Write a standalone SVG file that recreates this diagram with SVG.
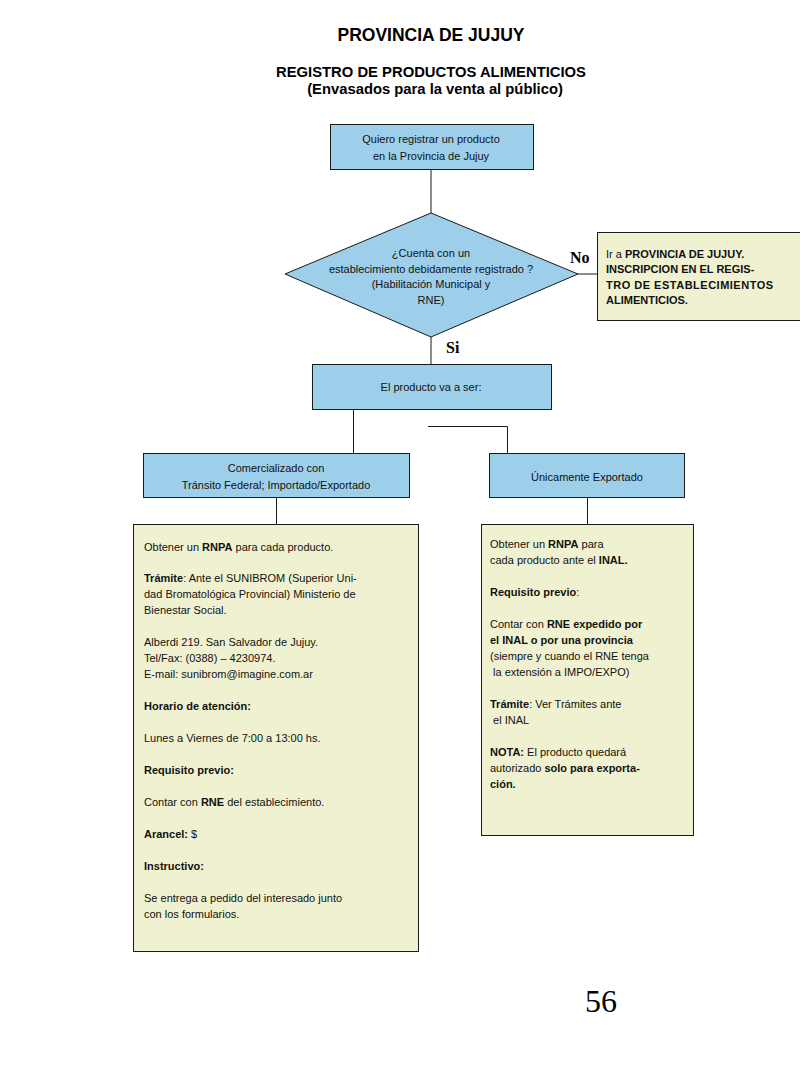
<svg xmlns="http://www.w3.org/2000/svg" width="800" height="1066" viewBox="0 0 800 1066">
<style>
.bg{fill:#ffffff}
.blue{fill:#9ecfea;stroke:#1a1a1a;stroke-width:1}
.note{fill:#f0f1d0;stroke:#1a1a1a;stroke-width:1}
.t{font-family:"Liberation Sans",Arial,sans-serif;font-size:11px;fill:#111}
.c{text-anchor:middle}
.b{font-weight:bold}
.h{font-family:"Liberation Sans",Arial,sans-serif;font-weight:bold;fill:#000;text-anchor:middle}
.lbl{font-family:"Liberation Serif","Times New Roman",serif;font-weight:bold;font-size:16px;fill:#000}
.conn{stroke:#1a1a1a;stroke-width:1;fill:none}
</style>
<rect class="bg" x="0" y="0" width="800" height="1066"/>
<g id="titles">
<text class="h" x="431" y="41" font-size="17.5">PROVINCIA DE JUJUY</text>
<text class="h" x="431" y="77" font-size="14.8">REGISTRO DE PRODUCTOS ALIMENTICIOS</text>
<text class="h" x="435" y="94" font-size="14.8">(Envasados para la venta al público)</text>
</g>
<g id="connectors">
<line class="conn" x1="431" y1="169" x2="431" y2="213"/>
<line class="conn" x1="578" y1="274" x2="597" y2="274"/>
<line class="conn" x1="431" y1="337" x2="431" y2="364"/>
<line class="conn" x1="353.5" y1="409" x2="353.5" y2="453"/>
<polyline class="conn" points="428,426.5 507.5,426.5 507.5,453"/>
<line class="conn" x1="276.5" y1="497" x2="276.5" y2="524"/>
<line class="conn" x1="587.5" y1="497" x2="587.5" y2="524"/>
<text class="lbl" x="570" y="263">No</text>
<text class="lbl" x="446" y="353">Si</text>
</g>
<g id="n-start">
<rect class="blue" x="330.5" y="124.5" width="203" height="45"/>
<text class="t c" x="431" y="143">Quiero registrar un producto</text>
<text class="t c" x="431" y="160">en la Provincia de Jujuy</text>
</g>
<g id="n-decision">
<polygon class="blue" points="431,213 578,274 431,337 285,274"/>
<text class="t c" x="431" y="257">¿Cuenta con un</text>
<text class="t c" x="431" y="273">establecimiento debidamente registrado ?</text>
<text class="t c" x="431" y="288">(Habilitación Municipal y</text>
<text class="t c" x="431" y="304">RNE)</text>
</g>
<g id="n-no">
<rect class="note" x="597.5" y="232.5" width="203" height="88"/>
<text class="t" x="606" y="258" font-size="10.5">Ir a <tspan class="b">PROVINCIA DE JUJUY.</tspan></text>
<text class="t b" x="606" y="273" font-size="10.5">INSCRIPCION EN EL REGIS-</text>
<text class="t b" x="606" y="289" font-size="10.5" letter-spacing="0.5">TRO DE ESTABLECIMIENTOS</text>
<text class="t b" x="606" y="304" font-size="10.5">ALIMENTICIOS.</text>
</g>
<g id="n-producto">
<rect class="blue" x="312.5" y="364.5" width="239" height="45"/>
<text class="t c" x="431" y="391">El producto va a ser:</text>
</g>
<g id="n-comercializado">
<rect class="blue" x="143.5" y="453.5" width="266" height="44"/>
<text class="t c" x="276" y="472">Comercializado con</text>
<text class="t c" x="276" y="489">Tránsito Federal; Importado/Exportado</text>
</g>
<g id="n-exportado">
<rect class="blue" x="489.5" y="453.5" width="195" height="44"/>
<text class="t c" x="587" y="481">Únicamente Exportado</text>
</g>
<g id="n-detalle-comercializado">
<rect class="note" x="133.5" y="524.5" width="285" height="427"/>
<text class="t" x="144" y="551">Obtener un <tspan class="b">RNPA</tspan> para cada producto.</text>
<text class="t" x="144" y="582"><tspan class="b">Trámite</tspan>:  Ante el SUNIBROM (Superior Uni-</text>
<text class="t" x="144" y="598">dad Bromatológica Provincial) Ministerio de</text>
<text class="t" x="144" y="614">Bienestar Social.</text>
<text class="t" x="144" y="646">Alberdi 219. San Salvador de Jujuy.</text>
<text class="t" x="144" y="662">Tel/Fax: (0388) – 4230974.</text>
<text class="t" x="144" y="678">E-mail: sunibrom@imagine.com.ar</text>
<text class="t b" x="144" y="710">Horario de atención:</text>
<text class="t" x="144" y="742">Lunes a Viernes de 7:00 a 13:00 hs.</text>
<text class="t b" x="144" y="774">Requisito previo:</text>
<text class="t" x="144" y="806">Contar con <tspan class="b">RNE</tspan> del establecimiento.</text>
<text class="t" x="144" y="838"><tspan class="b">Arancel:</tspan> $</text>
<text class="t b" x="144" y="870">Instructivo:</text>
<text class="t" x="144" y="902">Se entrega a pedido del interesado junto</text>
<text class="t" x="144" y="918">con los formularios.</text>
</g>
<g id="n-detalle-exportado">
<rect class="note" x="481.5" y="524.5" width="212" height="311"/>
<text class="t" x="490" y="548">Obtener un  <tspan class="b">RNPA</tspan> para</text>
<text class="t" x="490" y="564">cada producto ante el <tspan class="b">INAL.</tspan></text>
<text class="t" x="490" y="596"><tspan class="b">Requisito previo</tspan>:</text>
<text class="t" x="490" y="628">Contar con <tspan class="b">RNE expedido por</tspan></text>
<text class="t b" x="490" y="644">el INAL o por una provincia</text>
<text class="t" x="490" y="660">(siempre y cuando el RNE tenga</text>
<text class="t" x="490" y="676" xml:space="preserve"> la extensión a IMPO/EXPO)</text>
<text class="t" x="490" y="708"><tspan class="b">Trámite</tspan>: Ver Trámites ante</text>
<text class="t" x="490" y="724" xml:space="preserve"> el INAL</text>
<text class="t" x="490" y="756"><tspan class="b">NOTA:</tspan> El producto quedará</text>
<text class="t" x="490" y="772">autorizado <tspan class="b">solo para exporta-</tspan></text>
<text class="t b" x="490" y="788">ción.</text>
</g>
<g id="page-number">
<text x="585" y="1012" font-family="'Liberation Serif','Times New Roman',serif" font-size="32" fill="#000">56</text>
</g>
</svg>
